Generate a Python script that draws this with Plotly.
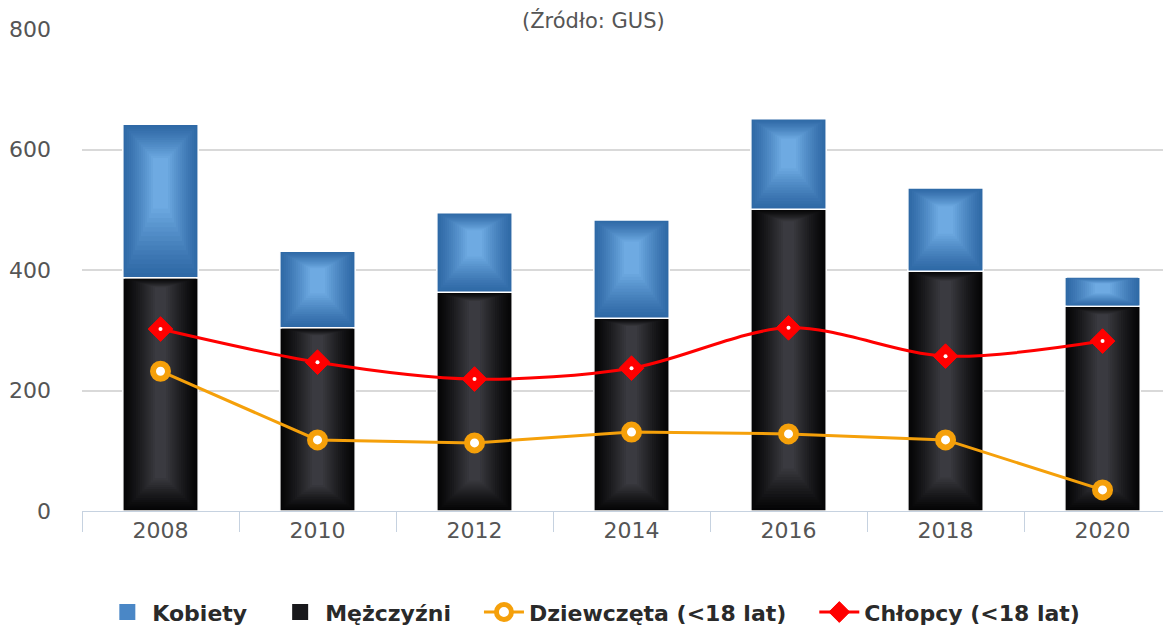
import plotly.graph_objects as go

years = ["2008", "2010", "2012", "2014", "2016", "2018", "2020"]
mezczyzni = [387, 304, 363, 320, 501, 398, 340]
kobiety = [255, 127, 132, 163, 150, 138, 48]
dziewczeta = [232, 118, 113, 131, 128, 118, 35]
chlopcy = [302, 247, 219, 237, 304, 257, 282]

FONT = "DejaVu Sans, Verdana, sans-serif"
BAR_W = 0.48
N_LAYERS = 16
PAD = "\u00a0\u00a0\u00a0"


def lerp(c1, c2, t):
    a = [int(c1[i:i + 2], 16) for i in (1, 3, 5)]
    b = [int(c2[i:i + 2], 16) for i in (1, 3, 5)]
    return "rgb(%d,%d,%d)" % tuple(round(a[k] + (b[k] - a[k]) * t) for k in range(3))


def gradient_bars(fig, bases, heights, edge, center, top_f, bot_f, shrink):
    for i in range(N_LAYERS):
        t = i / (N_LAYERS - 1)
        b = [bs + h * bot_f * t for bs, h in zip(bases, heights)]
        hh = [h * (1 - (bot_f + top_f) * t) for h in heights]
        fig.add_trace(go.Bar(
            x=years, y=hh, base=b,
            width=BAR_W * (1 - shrink * t),
            marker=dict(color=lerp(edge, center, t ** 1.2),
                        line=dict(color="white", width=1.5 if i == 0 else 0)),
            showlegend=False, hoverinfo="skip"))


fig = go.Figure()
gradient_bars(fig, [0] * len(years), mezczyzni, "#050506", "#3a3a40", 0.04, 0.14, 0.85)
gradient_bars(fig, mezczyzni, kobiety, "#2f69a6", "#6eaae2", 0.22, 0.45, 0.8)

# legend entries for the stacked bars
fig.add_trace(go.Scatter(x=[None], y=[None], mode="markers", name="Kobiety" + PAD,
                         marker=dict(symbol="square", size=16, color="#4a87c6"), legendrank=1))
fig.add_trace(go.Scatter(x=[None], y=[None], mode="markers", name="Mężczyźni" + PAD,
                         marker=dict(symbol="square", size=16, color="#18181b"), legendrank=2))

fig.add_trace(go.Scatter(x=years, y=dziewczeta, name="Dziewczęta (<18 lat)" + PAD, mode="lines+markers",
                         line=dict(color="#f5a00a", width=3),
                         marker=dict(symbol="circle", size=15, color="white",
                                     line=dict(color="#f5a00a", width=6)),
                         legendrank=3))
fig.add_trace(go.Scatter(x=years, y=chlopcy, name="Chłopcy (<18 lat)", mode="lines+markers",
                         line=dict(color="#ff0000", width=3, shape="spline", smoothing=0.9),
                         marker=dict(symbol="diamond", size=19, color="#ff0000",
                                     line=dict(color="#ff0000", width=1)),
                         legendrank=4))
fig.add_trace(go.Scatter(x=years, y=chlopcy, mode="markers", showlegend=False, hoverinfo="skip",
                         marker=dict(symbol="circle", size=4, color="white")))

fig.update_layout(
    width=1171, height=626,
    barmode="overlay",
    paper_bgcolor="white", plot_bgcolor="white",
    margin=dict(l=74, r=8, t=21, b=123, autoexpand=False),
    font=dict(family=FONT),
    showlegend=True,
    legend=dict(orientation="h", x=0.47, xanchor="center", y=-0.21, yanchor="middle",
                font=dict(size=22, color="#2a2a2a", family=FONT, weight="bold"),
                itemwidth=40, itemsizing="trace", traceorder="normal"),
    annotations=[dict(text="(Źródło: GUS)", x=0.47, xref="paper", y=1, yref="paper",
                      yshift=9, showarrow=False,
                      font=dict(size=21, color="#555555", family=FONT), yanchor="middle")],
)
fig.update_xaxes(type="category", range=[-0.5, 6.436], showgrid=False, automargin=False,
                 showline=True, linecolor="#c6d2e0", linewidth=1,
                 ticks="outside", tickson="boundaries", ticklen=20, tickcolor="#c6d2e0",
                 tickfont=dict(size=22, color="#555555", family=FONT))
fig.update_yaxes(range=[0, 800], tickvals=[0, 200, 400, 600, 800], showgrid=True, automargin=False,
                 gridcolor="#d9d9d9", gridwidth=1.5, zeroline=False, ticks="",
                 ticklabelstandoff=30, tickfont=dict(size=22, color="#555555", family=FONT))
fig.write_html("out.html")
